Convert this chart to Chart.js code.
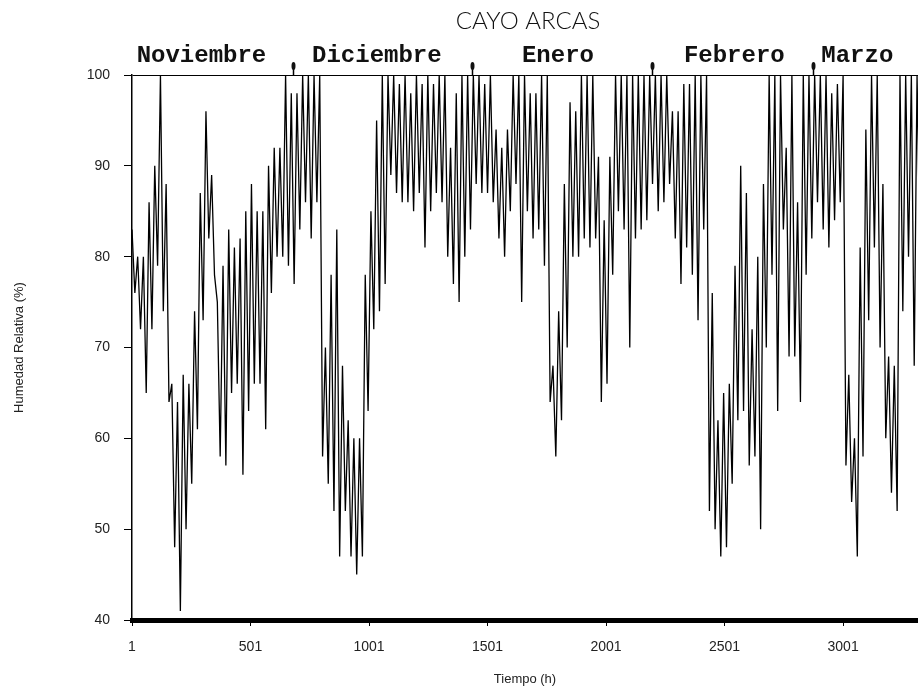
<!DOCTYPE html>
<html lang="es">
<head>
<meta charset="utf-8">
<title>Cayo Arcas - Humedad Relativa</title>
<script src="https://cdn.jsdelivr.net/npm/chart.js@4.4.1/dist/chart.umd.min.js"></script>
<style>
  html, body { margin: 0; padding: 0; background: #fff; }
</style>
</head>
<body>
<canvas id="grafica" width="918" height="693"></canvas>
<script>
// Datos (Cayo Arcas, nov - mar)
const titulo = "CAYO ARCAS"
const meses = ["Noviembre", "Diciembre", "Enero", "Febrero", "Marzo"]
const centroMeses = [294, 1034, 1798, 2542, 3061] // hora donde va cada nombre de mes
const cambioMes = [681, 1435, 2194, 2873] // hora de las flechas entre meses
const ticksX = [1, 501, 1001, 1501, 2001, 2501, 3001]
const ticksY = [40, 50, 60, 70, 80, 90, 100]
const pasoHoras = 12 // un valor cada 12 h (maximo / minimo del dia)

// humedad relativa (%), pares maximo-minimo por dia
const humedad = [
  83, 76, 80, 72, 80, 65, 86, 72, 90, 79, 100, 74, 88, 64, 66, 48, 64, 41, 67, 50,
  66, 55, 74, 61, 87, 73, 96, 82, 89, 78, 75, 58, 79, 57, 83, 65, 81, 66, 82, 56,
  85, 63, 88, 66, 85, 66, 85, 61, 90, 76, 92, 80, 92, 80, 100, 79, 98, 77, 98, 83,
  100, 86, 100, 82, 100, 86, 100, 58, 70, 55, 78, 52, 83, 47, 68, 52, 62, 47, 60, 45,
  60, 47, 78, 63, 85, 72, 95, 74, 100, 77, 100, 89, 100, 87, 99, 86, 100, 86, 98, 85,
  100, 87, 99, 81, 100, 85, 99, 87, 100, 86, 100, 80, 92, 77, 98, 75, 100, 80, 100, 83,
  100, 88, 100, 87, 99, 87, 100, 86, 94, 82, 92, 80, 94, 85, 100, 88, 100, 75, 100, 85,
  98, 82, 98, 83, 100, 79, 100, 64, 68, 58, 74, 62, 88, 70, 97, 80, 96, 80, 100, 82,
  100, 81, 100, 82, 91, 64, 84, 66, 91, 78, 100, 85, 100, 83, 100, 70, 100, 82, 100, 83,
  100, 84, 100, 88, 100, 85, 100, 86, 100, 88, 96, 82, 96, 77, 99, 81, 99, 78, 100, 73,
  100, 83, 100, 52, 76, 50, 62, 47, 65, 48, 66, 55, 79, 62, 90, 63, 87, 57, 72, 58,
  80, 50, 88, 70, 100, 78, 100, 63, 100, 83, 92, 69, 100, 69, 86, 64, 100, 78, 100, 82,
  100, 86, 100, 83, 100, 81, 98, 84, 99, 86, 100, 57, 67, 53, 60, 47, 81, 58, 94, 73,
  100, 81, 100, 70, 88, 60, 69, 54, 68, 52, 100, 74, 100, 80, 100, 68, 100, 80
]

const puntos = humedad.map((v, i) => ({ x: 1 + i * pasoHoras, y: v }))

const fuenteEje = { family: "Liberation Sans", size: 14 }

// Titulo, nombres de los meses y flechas de cambio de mes
const decoracion = {
  id: "decoracion",
  afterDraw(chart) {
    const { ctx, chartArea } = chart
    const x = chart.scales.x
    ctx.save()
    ctx.fillStyle = "#111"
    ctx.textAlign = "center"
    ctx.textBaseline = "middle"
    ctx.font = "300 24px Lato, 'Liberation Sans'"
    ctx.fillText(titulo, (chartArea.left + chartArea.right) / 2 + 3, 21)

    ctx.font = "bold 24px 'Liberation Mono'"
    meses.forEach((m, i) => {
      ctx.fillText(m, x.getPixelForValue(centroMeses[i]), 56)
    })

    ctx.strokeStyle = "#000"
    ctx.lineWidth = 1.5
    cambioMes.forEach((h) => {
      const px = Math.round(x.getPixelForValue(h)) + 0.5
      ctx.beginPath()
      ctx.moveTo(px, chartArea.top - 12)
      ctx.lineTo(px, chartArea.top)
      ctx.stroke()
      ctx.beginPath()
      ctx.ellipse(px, chartArea.top - 9, 2, 4, 0, 0, Math.PI * 2)
      ctx.fill()
    })
    ctx.restore()
  },
}

new Chart(document.getElementById("grafica"), {
  type: "line",
  data: {
    datasets: [
      {
        label: "Humedad Relativa",
        data: puntos,
        borderColor: "#000",
        borderWidth: 1.3,
        pointRadius: 0,
        tension: 0,
        fill: false,
      },
    ],
  },
  options: {
    responsive: false,
    animation: false,
    layout: { padding: { top: 75, right: 0, bottom: 0, left: 0 } },
    plugins: {
      legend: { display: false },
      tooltip: { enabled: false },
    },
    scales: {
      x: {
        type: "linear",
        min: 1,
        max: 3317,
        afterBuildTicks: (s) => {
          s.ticks = ticksX.map((v) => ({ value: v }))
        },
        afterFit: (s) => {
          s.height = 73
        },
        ticks: {
          callback: (v) => String(v),
          font: fuenteEje,
          color: "#222",
          padding: 13,
          maxRotation: 0,
          autoSkip: false,
        },
        grid: { drawOnChartArea: false, tickLength: 6, color: "#000" },
        border: { color: "#000", width: 5 },
        title: {
          display: true,
          text: "Tiempo (h)",
          font: { family: "Liberation Sans", size: 13 },
          color: "#222",
          padding: { top: 0, bottom: 6 },
        },
      },
      y: {
        min: 40,
        max: 100,
        afterBuildTicks: (s) => {
          s.ticks = ticksY.map((v) => ({ value: v }))
        },
        afterFit: (s) => {
          s.width = 132
        },
        ticks: {
          font: fuenteEje,
          color: "#222",
          padding: 14,
        },
        grid: {
          color: (c) => (c.tick && c.tick.value === 100 ? "#000" : "rgba(0,0,0,0)"),
          tickColor: "#000",
          tickLength: 8,
          lineWidth: 1,
        },
        border: { color: "#000", width: 1.5 },
        title: {
          display: true,
          text: "Humedad Relativa (%)",
          font: { family: "Liberation Sans", size: 13 },
          color: "#222",
          padding: { top: 12, bottom: 0 },
        },
      },
    },
  },
  plugins: [decoracion],
})
</script>
</body>
</html>
